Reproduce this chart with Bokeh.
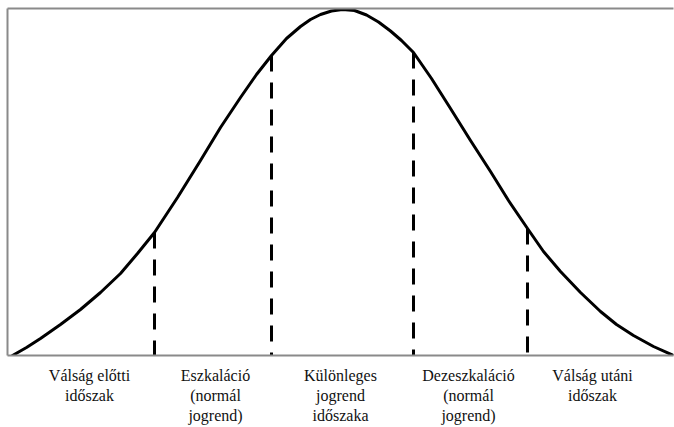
from bokeh.plotting import figure
from bokeh.models import Range1d, LinearAxis, FixedTicker, ColumnDataSource
from bokeh.embed import file_html
from bokeh.resources import INLINE

# Bell curve (x position, height above baseline)
curve_x = [12, 26, 40, 60, 80, 100, 120, 137, 154, 177, 200, 220, 240, 256, 271,
           286, 300, 310, 320, 331, 342, 354, 366, 378, 390, 401, 413, 431, 450,
           470, 490, 508, 527, 543, 560, 580, 600, 616, 633, 653, 673]
curve_y = [0, 8, 17, 31, 46, 63, 82, 102, 123, 158, 195, 228, 258, 281, 300,
           317, 329, 336, 341, 344.5, 346, 345, 340.5, 333.5, 324.5, 315, 303, 277, 247,
           215, 184, 155, 127, 104, 84, 63, 44, 31, 20, 9, 0]

# Phase boundaries (dashed lines) and the curve height where they start
bound_x = [154, 271, 413, 527]
bound_top = [123, 300, 303, 127]

# Phase labels
label_x = [89, 215, 340, 468, 592]
label_text = [
    "Válság előtti\nidőszak",
    "Eszkaláció\n(normál\njogrend)",
    "Különleges\njogrend\nidőszaka",
    "Dezeszkaláció\n(normál\njogrend)",
    "Válság utáni\nidőszak",
]

p = figure(width=674, height=427, output_backend="svg", toolbar_location=None,
           x_range=Range1d(7, 673), y_range=Range1d(0, 347),
           min_border_left=7, min_border_right=1, min_border_top=8, min_border_bottom=72,
           x_axis_location=None, y_axis_location=None)
p.outline_line_color = None
p.grid.visible = False
p.background_fill_color = "white"
p.border_fill_color = "white"

border_color = "#8a8a8a"

def bare_axis(ax):
    ax.axis_line_color = border_color
    ax.axis_line_width = 2
    ax.major_tick_line_color = None
    ax.minor_tick_line_color = None
    ax.major_tick_in = 0
    ax.major_tick_out = 0
    ax.minor_tick_in = 0
    ax.minor_tick_out = 0
    return ax

left = bare_axis(LinearAxis())
left.major_label_text_font_size = "0px"
left.major_label_standoff = 0
left.ticker = FixedTicker(ticks=[])
p.add_layout(left, "left")

top = bare_axis(LinearAxis())
top.major_label_text_font_size = "0px"
top.major_label_standoff = 0
top.ticker = FixedTicker(ticks=[])
p.add_layout(top, "above")

bottom = bare_axis(LinearAxis())
bottom.ticker = FixedTicker(ticks=label_x)
bottom.major_label_overrides = {x: t for x, t in zip(label_x, label_text)}
bottom.major_label_text_font = "Liberation Serif"
bottom.major_label_text_font_size = "16px"
bottom.major_label_text_color = "#111111"
bottom.major_label_standoff = 11
p.add_layout(bottom, "below")

p.line(curve_x, curve_y, line_color="black", line_width=3, line_join="round", line_cap="round")

seg = ColumnDataSource(dict(x=bound_x, top=bound_top, base=[0] * len(bound_x)))
p.segment(x0="x", y0="top", x1="x", y1="base", source=seg,
          line_color="black", line_width=3, line_dash="16 11")

open("out.html", "w").write(file_html(p, INLINE))
